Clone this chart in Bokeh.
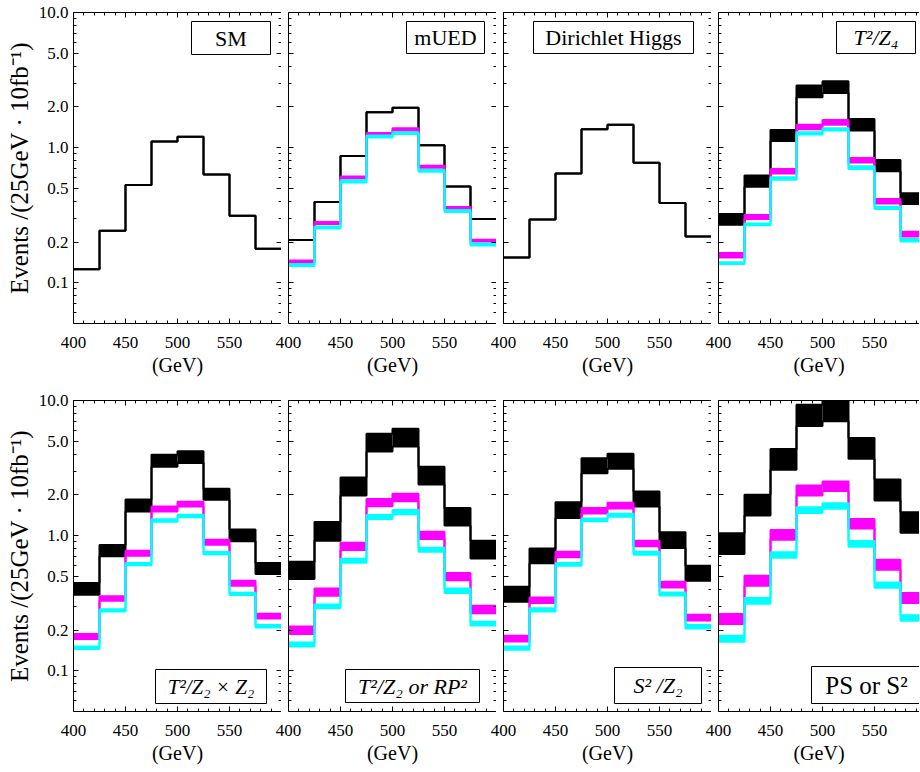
import math
from bokeh.plotting import figure
from bokeh.models import (Range1d, FixedTicker, PrintfTickFormatter, LinearAxis,
                          LogAxis, BoxAnnotation, Label)
from bokeh.layouts import row, column
from bokeh.embed import file_html
from bokeh.resources import INLINE

# ---------------- data ----------------
bin_edges = [400, 425, 450, 475, 500, 525, 550, 575, 600]

sm_black = [0.126, 0.243, 0.53, 1.11, 1.205, 0.634, 0.313, 0.179]

mued_black = [0.207, 0.396, 0.867, 1.83, 1.97, 1.04, 0.517, 0.296]
mued_mag_hi = [0.146, 0.282, 0.613, 1.285, 1.39, 0.736, 0.364, 0.208]
mued_mag_lo = [0.142, 0.272, 0.593, 1.24, 1.34, 0.711, 0.351, 0.202]
mued_cyan_hi = [0.138, 0.261, 0.573, 1.23, 1.30, 0.687, 0.345, 0.195]
mued_cyan_lo = [0.133, 0.252, 0.553, 1.19, 1.26, 0.664, 0.334, 0.189]

dh_black = [0.154, 0.294, 0.645, 1.37, 1.48, 0.774, 0.389, 0.220]

t2z4_black_hi = [0.323, 0.621, 1.35, 2.88, 3.10, 1.63, 0.811, 0.459]
t2z4_black_lo = [0.269, 0.514, 1.12, 2.36, 2.54, 1.34, 0.668, 0.383]
t2z4_mag_hi = [0.166, 0.317, 0.695, 1.48, 1.60, 0.838, 0.417, 0.239]
t2z4_mag_lo = [0.154, 0.296, 0.645, 1.37, 1.48, 0.778, 0.387, 0.220]
t2z4_cyan_hi = [0.142, 0.275, 0.603, 1.30, 1.39, 0.727, 0.366, 0.211]
t2z4_cyan_lo = [0.138, 0.267, 0.580, 1.25, 1.34, 0.695, 0.352, 0.202]

t2z2z2_black_hi = [0.446, 0.853, 1.85, 3.96, 4.21, 2.22, 1.11, 0.628]
t2z2z2_black_lo = [0.366, 0.703, 1.51, 3.24, 3.45, 1.84, 0.908, 0.52]
t2z2z2_mag_hi = [0.187, 0.356, 0.774, 1.64, 1.78, 0.934, 0.464, 0.264]
t2z2z2_mag_lo = [0.172, 0.330, 0.711, 1.51, 1.64, 0.858, 0.426, 0.244]
t2z2z2_cyan_hi = [0.151, 0.286, 0.628, 1.32, 1.43, 0.757, 0.378, 0.218]
t2z2z2_cyan_lo = [0.145, 0.275, 0.603, 1.27, 1.37, 0.727, 0.364, 0.209]

t2z2_black_hi = [0.642, 1.26, 2.69, 5.67, 6.17, 3.24, 1.60, 0.918]
t2z2_black_lo = [0.478, 0.918, 1.98, 4.19, 4.56, 2.39, 1.19, 0.679]
t2z2_mag_hi = [0.213, 0.407, 0.888, 1.87, 2.04, 1.07, 0.529, 0.303]
t2z2_mag_lo = [0.187, 0.359, 0.784, 1.65, 1.80, 0.945, 0.467, 0.267]
t2z2_cyan_hi = [0.162, 0.310, 0.676, 1.42, 1.55, 0.815, 0.407, 0.231]
t2z2_cyan_lo = [0.151, 0.290, 0.631, 1.33, 1.44, 0.761, 0.376, 0.216]

s2z2_black_hi = [0.419, 0.805, 1.77, 3.74, 4.03, 2.12, 1.06, 0.600]
s2z2_black_lo = [0.325, 0.624, 1.35, 2.90, 3.12, 1.64, 0.811, 0.464]
s2z2_mag_hi = [0.182, 0.349, 0.761, 1.60, 1.75, 0.918, 0.456, 0.260]
s2z2_mag_lo = [0.165, 0.317, 0.691, 1.46, 1.59, 0.834, 0.414, 0.236]
s2z2_cyan_hi = [0.151, 0.290, 0.628, 1.34, 1.45, 0.761, 0.380, 0.218]
s2z2_cyan_lo = [0.143, 0.275, 0.600, 1.28, 1.38, 0.723, 0.361, 0.206]

ps_black_hi = [1.04, 2.01, 4.38, 9.29, 10.2, 5.29, 2.60, 1.49]
ps_black_lo = [0.731, 1.41, 3.08, 6.49, 7.03, 3.70, 1.82, 1.05]
ps_mag_hi = [0.263, 0.506, 1.10, 2.35, 2.52, 1.33, 0.664, 0.376]
ps_mag_lo = [0.222, 0.426, 0.934, 1.98, 2.14, 1.13, 0.560, 0.317]
ps_cyan_hi = [0.182, 0.345, 0.753, 1.62, 1.74, 0.913, 0.451, 0.258]
ps_cyan_lo = [0.164, 0.313, 0.687, 1.47, 1.58, 0.829, 0.412, 0.235]

panel_titles = ["SM", "mUED", "Dirichlet Higgs", "T²/Z₄",
                "T²/Z₂ × Z₂", "T²/Z₂ or RP²", "S² /Z₂", "PS or S²"]

y_major = [0.1, 0.2, 0.5, 1, 2, 5, 10]
y_minor = [0.06, 0.07, 0.08, 0.09, 0.3, 0.4, 0.6, 0.7, 0.8, 0.9,
           3, 4, 6, 7, 8, 9]
x_major = [400, 450, 500, 550]
x_minor = [410, 420, 430, 440, 460, 470, 480, 490, 510, 520, 530, 540,
           560, 570, 580, 590]

BLACK, MAG, CYAN = "#000000", "#ff00ff", "#00ffff"

series = [
    [(BLACK, sm_black, sm_black)],
    [(BLACK, mued_black, mued_black), (MAG, mued_mag_lo, mued_mag_hi),
     (CYAN, mued_cyan_lo, mued_cyan_hi)],
    [(BLACK, dh_black, dh_black)],
    [(BLACK, t2z4_black_lo, t2z4_black_hi), (MAG, t2z4_mag_lo, t2z4_mag_hi),
     (CYAN, t2z4_cyan_lo, t2z4_cyan_hi)],
    [(BLACK, t2z2z2_black_lo, t2z2z2_black_hi), (MAG, t2z2z2_mag_lo, t2z2z2_mag_hi),
     (CYAN, t2z2z2_cyan_lo, t2z2z2_cyan_hi)],
    [(BLACK, t2z2_black_lo, t2z2_black_hi), (MAG, t2z2_mag_lo, t2z2_mag_hi),
     (CYAN, t2z2_cyan_lo, t2z2_cyan_hi)],
    [(BLACK, s2z2_black_lo, s2z2_black_hi), (MAG, s2z2_mag_lo, s2z2_mag_hi),
     (CYAN, s2z2_cyan_lo, s2z2_cyan_hi)],
    [(BLACK, ps_black_lo, ps_black_hi), (MAG, ps_mag_lo, ps_mag_hi),
     (CYAN, ps_cyan_lo, ps_cyan_hi)],
]

# ---------------- layout constants ----------------
FONT = "Liberation Serif"
FW, FH = 208, 311
PX_PER_GEV = FW / 200.0
PX_PER_DEC = FH / math.log10(200.0)


def xd(px):
    return 400 + px / PX_PER_GEV


def yd(px):
    return 10 ** (1 - px / PX_PER_DEC)


# title boxes (frame-relative px): left, right, top, bottom, text centre x, size, style
boxes = [
    (118, 197, 9, 42, 157.5, "22px", "normal"),
    (118, 196, 9, 41, 157.0, "22px", "normal"),
    (30, 190, 9, 41, 110.0, "22px", "normal"),
    (118, 197, 9, 41, 157.5, "22px", "italic"),
    (82, 193, 269, 303, 137.5, "21px", "italic"),
    (57, 191, 269, 302, 124.0, "22px", "italic"),
    (111, 198, 267, 303, 154.5, "22px", "italic"),
    (93, 240, 266, 303, 148.0, "25px", "normal"),
]


def style_axis(ax, labels):
    ax.axis_line_color = "black"
    ax.axis_line_width = 1
    ax.major_tick_in = 5
    ax.major_tick_out = 0
    ax.minor_tick_in = 3
    ax.minor_tick_out = 0
    ax.major_tick_line_color = "black"
    ax.minor_tick_line_color = "black"
    if labels:
        ax.major_label_text_font = FONT
        ax.major_label_text_font_size = "17px"
        ax.major_label_text_color = "black"
    else:
        ax.major_label_text_font_size = "1px"
        ax.major_label_text_color = None
        ax.major_label_standoff = 0


figs = []
for k in range(8):
    r, c = divmod(k, 4)
    fw = FW if c < 3 else 201
    xend = 400 + fw / PX_PER_GEV
    p = figure(x_range=Range1d(400, xend), y_range=Range1d(0.05, 10),
               y_axis_type="log", frame_width=fw, frame_height=FH,
               output_backend="svg", toolbar_location=None,
               x_axis_location=None, y_axis_location=None,
               min_border_left=73 if c == 0 else 27,
               min_border_right=0,
               min_border_top=12 if r == 0 else 10,
               min_border_bottom=67 if r == 0 else 58,
               margin=(0, 0, 0, 0) if c == 0 else (0, 0, 0, -20))
    p.grid.grid_line_color = None
    p.outline_line_color = None
    p.border_fill_color = None
    p.background_fill_color = "white"

    xb = LinearAxis(ticker=FixedTicker(ticks=x_major, minor_ticks=x_minor))
    style_axis(xb, True)
    xb.major_label_standoff = 13
    xb.axis_label = "(GeV)"
    xb.axis_label_text_font = FONT
    xb.axis_label_text_font_size = "20px"
    xb.axis_label_text_font_style = "normal"
    xb.axis_label_text_color = "black"
    xb.axis_label_standoff = 3
    p.add_layout(xb, "below")

    xa = LinearAxis(ticker=FixedTicker(ticks=x_major, minor_ticks=x_minor))
    style_axis(xa, False)
    p.add_layout(xa, "above")

    yl = LogAxis(ticker=FixedTicker(ticks=y_major, minor_ticks=y_minor),
                 formatter=PrintfTickFormatter(format="%.1f"))
    style_axis(yl, c == 0)
    if c == 0:
        yl.major_label_standoff = 5
        yl.axis_label = "Events /(25GeV · 10fb⁻¹)"
        yl.axis_label_text_font = FONT
        yl.axis_label_text_font_size = "25px"
        yl.axis_label_text_font_style = "normal"
        yl.axis_label_text_color = "black"
        yl.axis_label_standoff = 3
    p.add_layout(yl, "left")

    if c < 3:
        yr = LogAxis(ticker=FixedTicker(ticks=y_major, minor_ticks=y_minor))
        style_axis(yr, False)
        p.add_layout(yr, "right")

    for color, lo, hi in series[k]:
        p.quad(left=bin_edges[:-1], right=bin_edges[1:], bottom=lo, top=hi,
               fill_color=color, line_color=None)
        p.step(bin_edges, lo + [lo[-1]], mode="after", line_color=color,
               line_width=2)
        p.step(bin_edges, hi + [hi[-1]], mode="after", line_color=color,
               line_width=2)

    l, rr, t, b, cx, fs, st = boxes[k]
    p.add_layout(BoxAnnotation(left=xd(l), right=xd(rr), top=yd(t), bottom=yd(b),
                               fill_color="white", fill_alpha=1.0,
                               line_color="black", line_width=1, line_alpha=1.0))
    p.add_layout(Label(x=xd(cx), y=yd((t + b) / 2.0),
                       text=panel_titles[k], text_font=FONT, text_font_size=fs,
                       text_font_style=st, text_align="center",
                       text_baseline="middle", text_color="black"))
    figs.append(p)

layout = column(row(figs[:4], spacing=0), row(figs[4:], spacing=0), spacing=0)

open("out.html", "w").write(file_html(layout, INLINE))
